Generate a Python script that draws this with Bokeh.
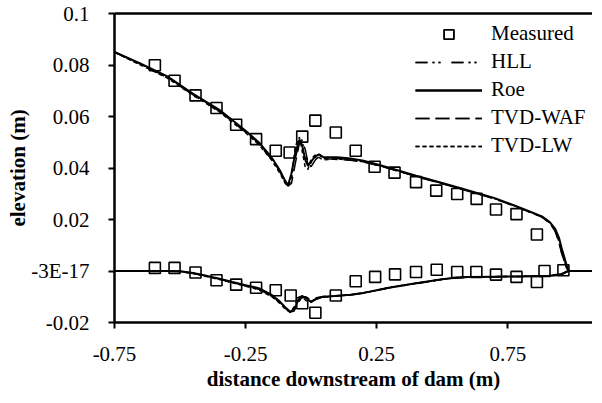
from bokeh.plotting import figure
from bokeh.models import FixedTicker, LinearAxis, Legend, LegendItem, Range1d
from bokeh.embed import file_html
from bokeh.resources import INLINE

FONT = "Liberation Serif"

# ---- tick positions / labels ----
x_ticks = [-0.75, -0.25, 0.25, 0.75]
x_tick_labels = ["-0.75", "-0.25", "0.25", "0.75"]
y_ticks = [-0.02, 0.0, 0.02, 0.04, 0.06, 0.08, 0.1]
y_tick_labels = ["-0.02", "-3E-17", "0.02", "0.04", "0.06", "0.08", "0.1"]
x_title = "distance downstream of dam (m)"
y_title = "elevation (m)"

# ---- measured data ----
xm_up = [-0.596, -0.521, -0.441, -0.361, -0.286, -0.210, -0.135, -0.082, -0.034, 0.016,
         0.094, 0.170, 0.242, 0.318, 0.400, 0.477, 0.557, 0.631, 0.705, 0.783, 0.861]
ym_up = [0.0799, 0.0739, 0.0682, 0.0633, 0.0568, 0.0512, 0.0467, 0.0460, 0.0522, 0.0584,
         0.0538, 0.0467, 0.0405, 0.0382, 0.0345, 0.0312, 0.0299, 0.0280, 0.0239, 0.0221, 0.0142]
xm_lo = [-0.596, -0.521, -0.441, -0.361, -0.286, -0.210, -0.135, -0.078, -0.034, 0.016,
         0.094, 0.170, 0.244, 0.320, 0.400, 0.479, 0.557, 0.630, 0.705, 0.783, 0.861, 0.890, 0.962]
ym_lo = [0.0012, 0.0012, -0.0006, -0.0036, -0.0053, -0.0065, -0.0075, -0.0095, -0.0125, -0.0162,
         -0.0095, -0.0040, -0.0023, -0.0013, -0.0004, 0.0005, -0.0004, -0.0004, -0.0014, -0.0023,
         -0.0043, 0.0000, 0.0003]

# ---- model results: water surface (upper) ----
x_upper = [-0.75, -0.65, -0.55, -0.45, -0.35, -0.25, -0.20, -0.15, -0.12, -0.10,
           -0.088, -0.075, -0.06, -0.045, -0.035, -0.022, -0.012, 0.0, 0.015, 0.03,
           0.045, 0.10, 0.15, 0.20, 0.25, 0.30, 0.40, 0.50, 0.60, 0.70,
           0.78, 0.84, 0.88, 0.91, 0.93, 0.945, 0.955, 0.965, 0.975, 0.982]
roe_upper = [0.0851, 0.0805, 0.0757, 0.0688, 0.0626, 0.0545, 0.0500, 0.0440, 0.0392, 0.0352,
             0.0333, 0.0380, 0.0460, 0.0510, 0.0490, 0.0430, 0.0408, 0.0425, 0.0445, 0.0453,
             0.0443, 0.0442, 0.0437, 0.0428, 0.0415, 0.0400, 0.0370, 0.0342, 0.0313, 0.0283,
             0.0253, 0.0228, 0.0212, 0.0190, 0.0165, 0.0130, 0.0090, 0.0055, 0.0020, 0.0003]
hll_upper = [0.0850, 0.0801, 0.0752, 0.0684, 0.0620, 0.0539, 0.0493, 0.0433, 0.0384, 0.0345,
             0.0330, 0.0355, 0.0440, 0.0500, 0.0505, 0.0455, 0.0415, 0.0420, 0.0440, 0.0448,
             0.0440, 0.0438, 0.0433, 0.0425, 0.0412, 0.0398, 0.0368, 0.0340, 0.0311, 0.0281,
             0.0251, 0.0226, 0.0210, 0.0188, 0.0160, 0.0120, 0.0080, 0.0045, 0.0015, 0.0002]
waf_upper = [0.0850, 0.0803, 0.0754, 0.0686, 0.0623, 0.0542, 0.0496, 0.0436, 0.0387, 0.0348,
             0.0331, 0.0340, 0.0420, 0.0495, 0.0510, 0.0470, 0.0420, 0.0405, 0.0430, 0.0445,
             0.0437, 0.0433, 0.0430, 0.0423, 0.0411, 0.0397, 0.0367, 0.0339, 0.0310, 0.0280,
             0.0250, 0.0226, 0.0209, 0.0186, 0.0155, 0.0110, 0.0070, 0.0035, 0.0010, 0.0001]
lw_upper = [0.0849, 0.0800, 0.0750, 0.0682, 0.0618, 0.0537, 0.0491, 0.0430, 0.0381, 0.0342,
            0.0328, 0.0365, 0.0485, 0.0520, 0.0470, 0.0400, 0.0395, 0.0435, 0.0450, 0.0440,
            0.0432, 0.0435, 0.0431, 0.0424, 0.0412, 0.0398, 0.0368, 0.0340, 0.0311, 0.0281,
            0.0252, 0.0227, 0.0210, 0.0187, 0.0158, 0.0115, 0.0072, 0.0038, 0.0012, 0.0001]

# ---- model results: bed (lower) ----
x_lower = [-0.75, -0.55, -0.50, -0.45, -0.40, -0.35, -0.30, -0.25, -0.20, -0.15,
           -0.12, -0.10, -0.08, -0.065, -0.05, -0.035, -0.02, 0.0, 0.02, 0.04,
           0.09, 0.15, 0.20, 0.25, 0.30, 0.40, 0.50, 0.55, 0.60, 0.70,
           0.80, 0.90, 0.95, 0.98, 1.073]
roe_lower = [0.0, 0.0, -0.0001, -0.0008, -0.0018, -0.0030, -0.0043, -0.0055, -0.0067, -0.0093,
             -0.0118, -0.0140, -0.0158, -0.0150, -0.0115, -0.0097, -0.0105, -0.0120, -0.0108, -0.0101,
             -0.0097, -0.0092, -0.0085, -0.0075, -0.0064, -0.0048, -0.0032, -0.0026, -0.0023, -0.0022,
             -0.0021, -0.0019, -0.0016, 0.0, 0.0]
hll_lower = [0.0, 0.0, -0.0002, -0.0009, -0.0020, -0.0032, -0.0045, -0.0058, -0.0071, -0.0098,
             -0.0123, -0.0145, -0.0160, -0.0145, -0.0108, -0.0100, -0.0112, -0.0118, -0.0106, -0.0100,
             -0.0098, -0.0093, -0.0086, -0.0076, -0.0065, -0.0049, -0.0033, -0.0027, -0.0024, -0.0022,
             -0.0021, -0.0019, -0.0016, 0.0, 0.0]
waf_lower = [0.0, 0.0, -0.0001, -0.0009, -0.0019, -0.0031, -0.0044, -0.0057, -0.0069, -0.0096,
             -0.0121, -0.0143, -0.0159, -0.0155, -0.0125, -0.0100, -0.0100, -0.0115, -0.0110, -0.0102,
             -0.0098, -0.0092, -0.0085, -0.0075, -0.0064, -0.0048, -0.0032, -0.0026, -0.0023, -0.0022,
             -0.0021, -0.0018, -0.0012, 0.0, 0.0]
lw_lower = [0.0, 0.0, -0.0002, -0.0010, -0.0021, -0.0033, -0.0046, -0.0059, -0.0073, -0.0100,
            -0.0125, -0.0147, -0.0161, -0.0140, -0.0102, -0.0098, -0.0115, -0.0122, -0.0104, -0.0099,
            -0.0097, -0.0092, -0.0085, -0.0075, -0.0064, -0.0048, -0.0032, -0.0026, -0.0023, -0.0022,
            -0.0021, -0.0019, -0.0014, 0.0, 0.0]

p = figure(width=592, height=399,
           x_range=Range1d(-0.75, 1.073), y_range=Range1d(-0.02, 0.1),
           output_backend="svg", toolbar_location=None,
           min_border_left=114, min_border_top=13, min_border_bottom=77, min_border_right=0)
p.outline_line_color = None
p.xgrid.visible = False
p.ygrid.visible = False
p.background_fill_color = "white"
p.border_fill_color = "white"

for ax in (p.xaxis[0], p.yaxis[0]):
    ax.axis_line_width = 2.5
    ax.axis_line_color = "black"
    ax.major_tick_line_width = 2
    ax.major_tick_line_color = "black"
    ax.major_tick_in = 0
    ax.major_tick_out = 6
    ax.minor_tick_line_color = None
    ax.major_label_text_font = FONT
    ax.major_label_text_font_size = "21px"
    ax.major_label_text_color = "black"
    ax.axis_label_text_font = FONT
    ax.axis_label_text_font_size = "21px"
    ax.axis_label_text_font_style = "bold"
    ax.axis_label_text_color = "black"

p.xaxis.ticker = FixedTicker(ticks=x_ticks)
p.xaxis.major_label_overrides = dict(zip(x_ticks, x_tick_labels))
p.yaxis.ticker = FixedTicker(ticks=y_ticks)
p.yaxis.major_label_overrides = dict(zip(y_ticks, y_tick_labels))
p.xaxis.axis_label = x_title
p.yaxis.axis_label = y_title
p.xaxis.major_label_standoff = 18
p.xaxis.axis_label_standoff = 3
p.yaxis.major_label_standoff = 19
p.yaxis.axis_label_standoff = -2

top = LinearAxis(ticker=FixedTicker(ticks=[]), axis_line_width=2.5, axis_line_color="black",
                 major_tick_line_color=None, minor_tick_line_color=None,
                 major_label_text_font_size="0px")
p.add_layout(top, "above")

styles = {
    "HLL": dict(line_dash="12 5 2 4 2 11", line_width=1.5),
    "Roe": dict(line_dash="solid", line_width=2),
    "TVD-WAF": dict(line_dash="14 6", line_width=1.5),
    "TVD-LW": dict(line_dash="4 3", line_width=1.5),
}
series = [("HLL", hll_upper, hll_lower), ("Roe", roe_upper, roe_lower),
          ("TVD-WAF", waf_upper, waf_lower), ("TVD-LW", lw_upper, lw_lower)]

items = []
meas1 = p.scatter(xm_up, ym_up, marker="square", size=11, fill_color=None,
                  line_color="black", line_width=1.6)
meas2 = p.scatter(xm_lo, ym_lo, marker="square", size=11, fill_color=None,
                  line_color="black", line_width=1.6)
items.append(LegendItem(label="Measured", renderers=[meas1, meas2]))
for name, yu, yl in series:
    r1 = p.line(x_upper, yu, line_color="black", **styles[name])
    r2 = p.line(x_lower, yl, line_color="black", **styles[name])
    items.append(LegendItem(label=name, renderers=[r1, r2]))

legend = Legend(items=items, location=(301, 164), margin=0, padding=0,
                glyph_width=67, glyph_height=24, label_height=24, spacing=3,
                label_standoff=9, label_text_font=FONT, label_text_font_size="21px",
                label_text_color="black", border_line_color=None, background_fill_alpha=0)
p.add_layout(legend)

open("out.html", "w").write(file_html(p, INLINE))
